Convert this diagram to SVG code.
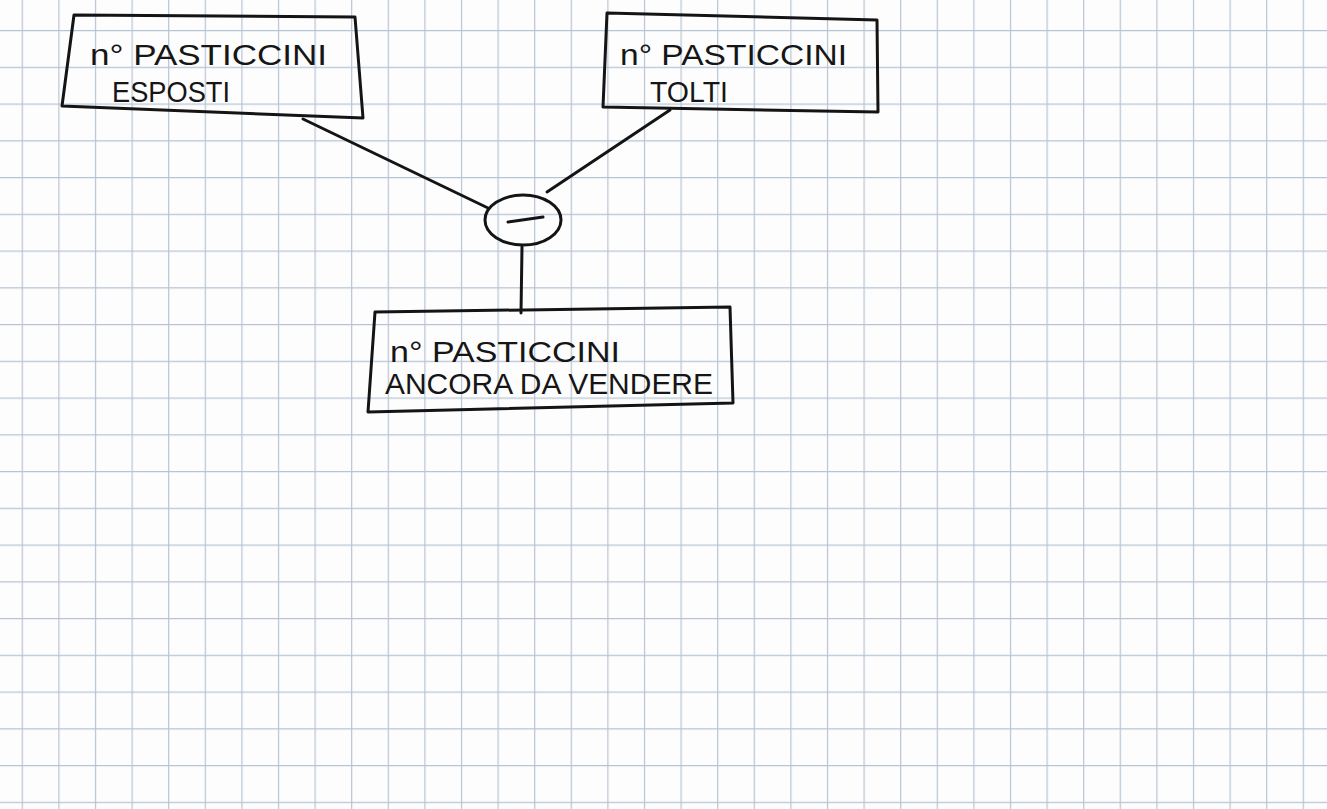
<svg xmlns="http://www.w3.org/2000/svg" width="1327" height="809" viewBox="0 0 1327 809">
<defs>
<pattern id="grid" patternUnits="userSpaceOnUse" x="21.7" y="30" width="36.6" height="36.75">
<path d="M0.6 0 V36.75 M0 0.6 H36.6" fill="none" stroke="#b7c4d4" stroke-width="1.2"/>
</pattern>
<style>
.box{fill:none;stroke:#141414;stroke-width:3;stroke-linejoin:round}
.ln{fill:none;stroke:#141414;stroke-width:3;stroke-linecap:round}
.t{font-family:"Liberation Sans",Arial,sans-serif;font-size:29px;fill:#161616}
</style>
</defs>
<rect width="1327" height="809" fill="#fdfdfd"/>
<rect width="1327" height="809" fill="url(#grid)"/>
<g id="connectors">
<path class="ln" d="M303 119 L488 208"/>
<path class="ln" d="M670 110 L547 192"/>
<path class="ln" d="M522 247 L521 313"/>
</g>
<g id="node-esposti">
<path class="box" d="M74 15 L355 17 L363 118 L62 106 Z"/>
<text class="t" x="90" y="65" textLength="237" lengthAdjust="spacingAndGlyphs">n° PASTICCINI</text>
<text class="t" x="112" y="102" textLength="118" lengthAdjust="spacingAndGlyphs">ESPOSTI</text>
</g>
<g id="node-tolti">
<path class="box" d="M607 13 L877 20 L878 112 L603 107 Z"/>
<text class="t" x="620" y="65" textLength="227" lengthAdjust="spacingAndGlyphs">n° PASTICCINI</text>
<text class="t" x="650" y="102" font-size="27" textLength="78" lengthAdjust="spacingAndGlyphs">TOLTI</text>
</g>
<g id="node-minus">
<ellipse class="box" cx="523" cy="220" rx="38" ry="25"/>
<path class="ln" d="M508 222 L543 217"/>
</g>
<g id="node-ancora">
<path class="box" d="M375 312 L730 307 L733 403 L368 412 Z"/>
<text class="t" x="390" y="362" textLength="230" lengthAdjust="spacingAndGlyphs">n° PASTICCINI</text>
<text class="t" x="385" y="394" textLength="328" lengthAdjust="spacingAndGlyphs">ANCORA DA VENDERE</text>
</g>
</svg>
